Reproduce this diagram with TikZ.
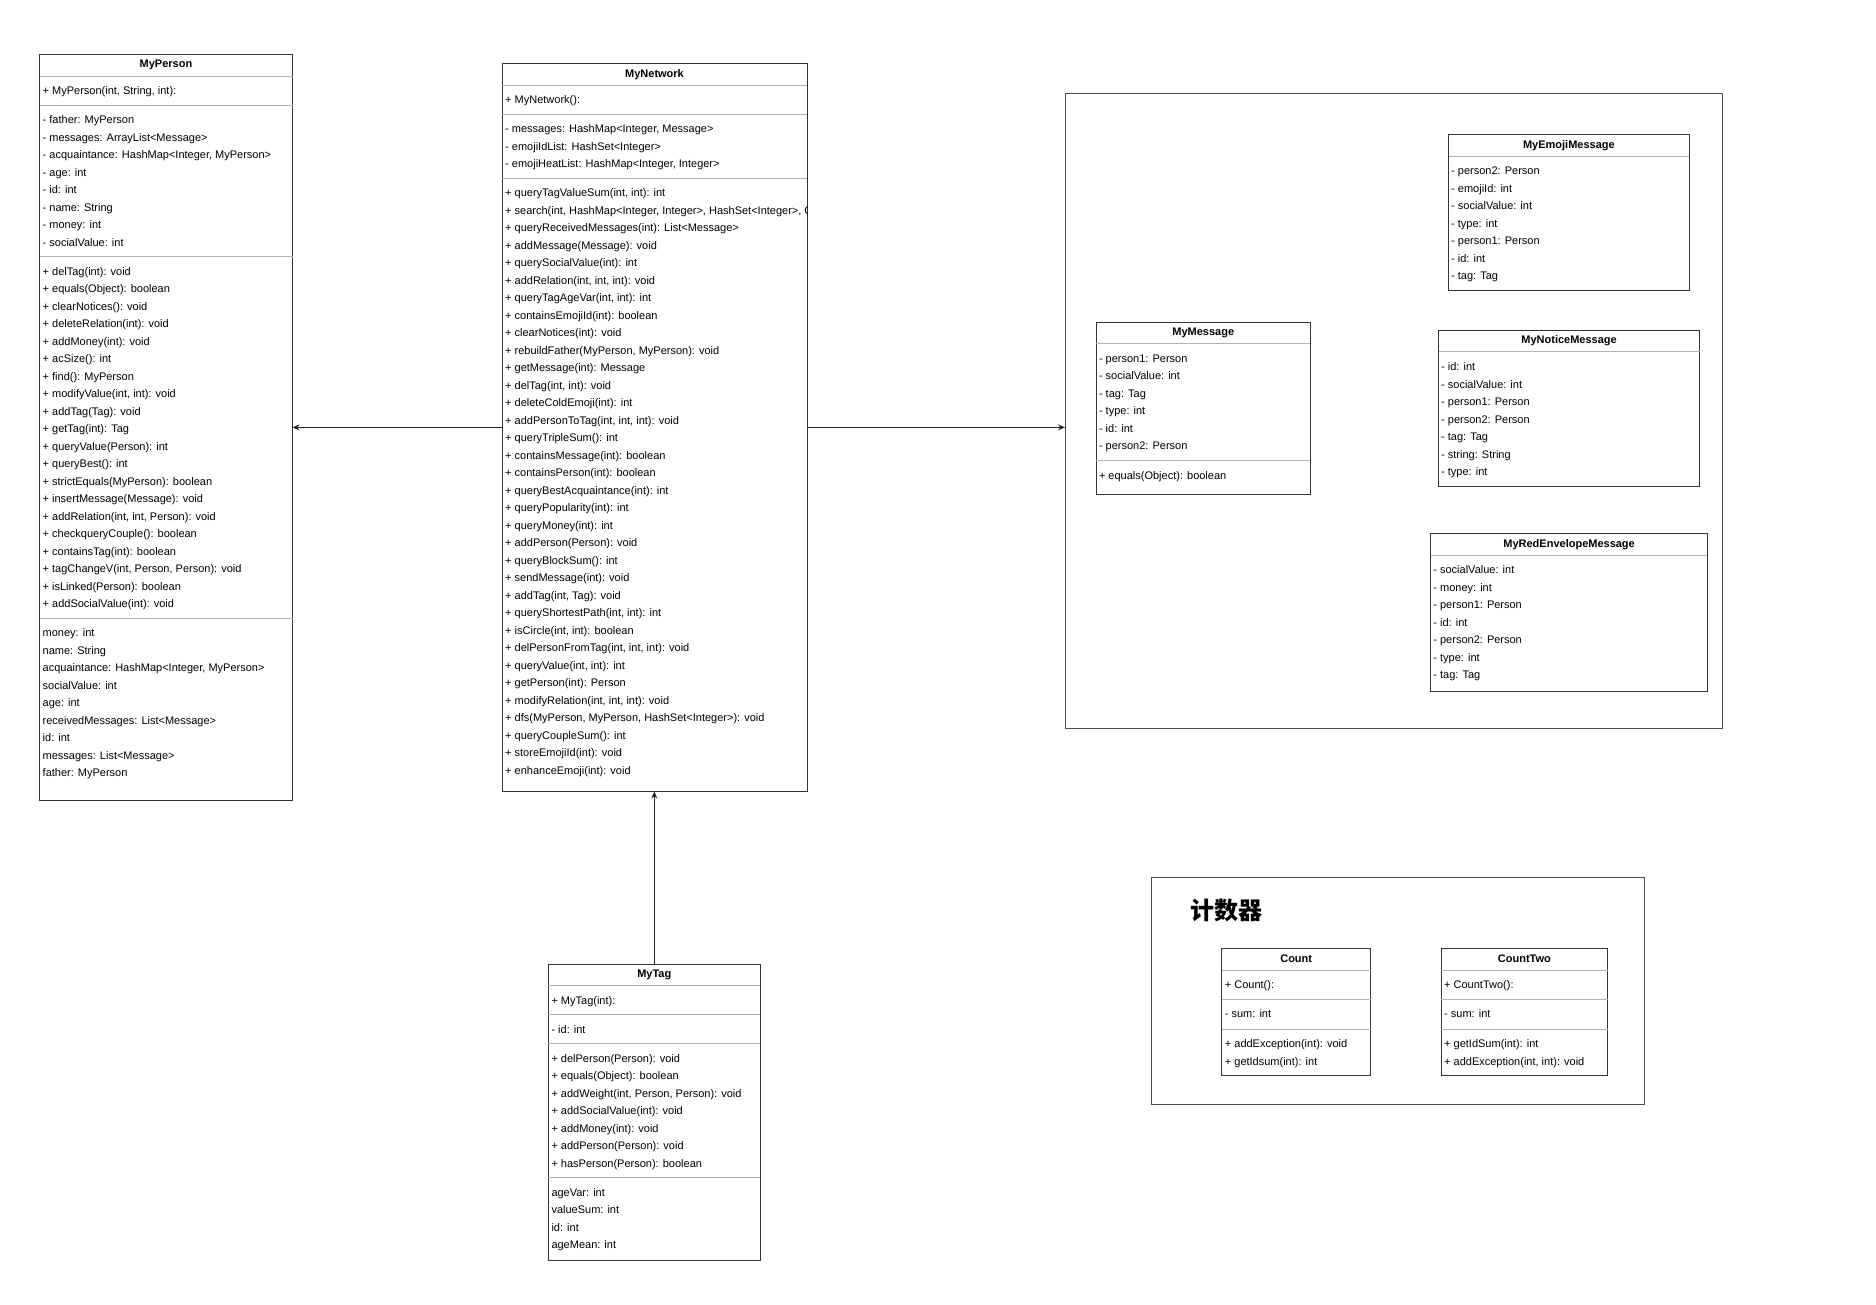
\documentclass[tikz,border=0pt]{standalone}
\usepackage{fontspec}
\setmainfont{Liberation Sans}
\newfontfamily\cjk{Noto Sans CJK SC}
\usepackage{tikz}
\usetikzlibrary{arrows.meta,positioning}

\begin{document}
\begin{tikzpicture}[
  x=1pt, y=-1pt,
  font=\fontsize{11pt}{17.5pt}\selectfont,
  cls/.style   ={rectangle, draw=black!80, line width=1pt, fill=white, anchor=north west,
                 inner sep=0pt, outer sep=0pt},
  frame/.style ={rectangle, draw=black!70, line width=1pt, anchor=north west,
                 inner sep=0pt, outer sep=0pt},
  title/.style ={font=\fontsize{11pt}{13pt}\selectfont\bfseries, inner sep=0pt,
                 text height=8pt, text depth=0pt},
  rows/.style  ={anchor=north west, align=left, inner sep=0pt},
  sep/.style   ={draw=black!30, line width=1pt},
  arr/.style   ={-{Stealth[length=7pt, width=6pt]}, draw=black!85, line width=1pt}
]
\useasboundingbox (0,0) rectangle (1876,1304);

% frames
\node[frame, minimum width=657.7pt, minimum height=635.3pt] (msgs) at (1065,93.3) {};
\node[frame, minimum width=492.6pt, minimum height=227pt] (counter) at (1151.7,877.3) {};
\node[font=\cjk\bfseries\fontsize{24pt}{27pt}\selectfont, anchor=west, inner sep=0pt]
  (counter-t) at (1190,910) {计数器};

% MyPerson
\node[cls, minimum width=253pt, minimum height=746.7pt] (person) at (39.5,54) {};
\node[title] (person-t) at (166,63.8) {MyPerson};
\draw[sep] ([yshift=-22pt]person.north west) -- ([yshift=-22pt]person.north east);
\draw[sep] ([yshift=-51pt]person.north west) -- ([yshift=-51pt]person.north east);
\draw[sep] ([yshift=-202.5pt]person.north west) -- ([yshift=-202.5pt]person.north east);
\draw[sep] ([yshift=-564pt]person.north west) -- ([yshift=-564pt]person.north east);
\node[rows] (person-c) at (42.5,86.7) {+ MyPerson(int, String, int):};
\node[rows] (person-a) at (42.5,115.7) {- father: MyPerson\\- messages: ArrayList<Message>\\
  - acquaintance: HashMap<Integer, MyPerson>\\- age: int\\- id: int\\- name: String\\
  - money: int\\- socialValue: int};
\node[rows] (person-m) at (42.5,267.2) {+ delTag(int): void\\+ equals(Object): boolean\\
  + clearNotices(): void\\+ deleteRelation(int): void\\+ addMoney(int): void\\
  + acSize(): int\\+ find(): MyPerson\\+ modifyValue(int, int): void\\+ addTag(Tag): void\\
  + getTag(int): Tag\\+ queryValue(Person): int\\+ queryBest(): int\\
  + strictEquals(MyPerson): boolean\\+ insertMessage(Message): void\\
  + addRelation(int, int, Person): void\\+ checkqueryCouple(): boolean\\
  + containsTag(int): boolean\\+ tagChangeV(int, Person, Person): void\\
  + isLinked(Person): boolean\\+ addSocialValue(int): void};
\node[rows] (person-f) at (42.5,628.7) {money: int\\name: String\\
  acquaintance: HashMap<Integer, MyPerson>\\socialValue: int\\age: int\\
  receivedMessages: List<Message>\\id: int\\messages: List<Message>\\father: MyPerson};

% MyNetwork
\node[cls, minimum width=305pt, minimum height=728.2pt] (net) at (502,63.3) {};
\node[title] (net-t) at (654.5,73) {MyNetwork};
\draw[sep] ([yshift=-21.7pt]net.north west) -- ([yshift=-21.7pt]net.north east);
\draw[sep] ([yshift=-50.7pt]net.north west) -- ([yshift=-50.7pt]net.north east);
\draw[sep] ([yshift=-114.7pt]net.north west) -- ([yshift=-114.7pt]net.north east);
\node[rows] (net-c) at (505,95.7) {+ MyNetwork():};
\node[rows] (net-a) at (505,124.7) {- messages: HashMap<Integer, Message>\\
  - emojiIdList: HashSet<Integer>\\- emojiHeatList: HashMap<Integer, Integer>};
\begin{scope}
  \clip (net.north west) rectangle (net.south east);
  \node[rows] (net-m) at (505,188.7) {+ queryTagValueSum(int, int): int\\
    + search(int, HashMap<Integer, Integer>, HashSet<Integer>, C\\
    + queryReceivedMessages(int): List<Message>\\+ addMessage(Message): void\\
    + querySocialValue(int): int\\+ addRelation(int, int, int): void\\
    + queryTagAgeVar(int, int): int\\+ containsEmojiId(int): boolean\\
    + clearNotices(int): void\\+ rebuildFather(MyPerson, MyPerson): void\\
    + getMessage(int): Message\\+ delTag(int, int): void\\+ deleteColdEmoji(int): int\\
    + addPersonToTag(int, int, int): void\\+ queryTripleSum(): int\\
    + containsMessage(int): boolean\\+ containsPerson(int): boolean\\
    + queryBestAcquaintance(int): int\\+ queryPopularity(int): int\\+ queryMoney(int): int\\
    + addPerson(Person): void\\+ queryBlockSum(): int\\+ sendMessage(int): void\\
    + addTag(int, Tag): void\\+ queryShortestPath(int, int): int\\
    + isCircle(int, int): boolean\\+ delPersonFromTag(int, int, int): void\\
    + queryValue(int, int): int\\+ getPerson(int): Person\\
    + modifyRelation(int, int, int): void\\+ dfs(MyPerson, MyPerson, HashSet<Integer>): void\\
    + queryCoupleSum(): int\\+ storeEmojiId(int): void\\+ enhanceEmoji(int): void};
\end{scope}

% MyTag
\node[cls, minimum width=212pt, minimum height=296pt] (tag) at (548.3,964) {};
\node[title] (tag-t) at (654.3,973.7) {MyTag};
\draw[sep] ([yshift=-21.7pt]tag.north west) -- ([yshift=-21.7pt]tag.north east);
\draw[sep] ([yshift=-50.5pt]tag.north west) -- ([yshift=-50.5pt]tag.north east);
\draw[sep] ([yshift=-79.5pt]tag.north west) -- ([yshift=-79.5pt]tag.north east);
\draw[sep] ([yshift=-213.5pt]tag.north west) -- ([yshift=-213.5pt]tag.north east);
\node[rows] (tag-c) at (551.3,996.4) {+ MyTag(int):};
\node[rows] (tag-a) at (551.3,1025.2) {- id: int};
\node[rows] (tag-m) at (551.3,1054.2) {+ delPerson(Person): void\\+ equals(Object): boolean\\
  + addWeight(int, Person, Person): void\\+ addSocialValue(int): void\\
  + addMoney(int): void\\+ addPerson(Person): void\\+ hasPerson(Person): boolean};
\node[rows] (tag-f) at (551.3,1188.2) {ageVar: int\\valueSum: int\\id: int\\ageMean: int};

% messages
\node[cls, minimum width=240.6pt, minimum height=156pt] (emoji) at (1448.6,134.3) {};
\node[title] (emoji-t) at (1568.9,144) {MyEmojiMessage};
\draw[sep] ([yshift=-21.7pt]emoji.north west) -- ([yshift=-21.7pt]emoji.north east);
\node[rows] (emoji-a) at (1451,166.7) {- person2: Person\\- emojiId: int\\
  - socialValue: int\\- type: int\\- person1: Person\\- id: int\\- tag: Tag};

\node[cls, minimum width=213.8pt, minimum height=172.3pt] (msg) at (1096.4,322) {};
\node[title] (msg-t) at (1203.3,331.7) {MyMessage};
\draw[sep] ([yshift=-21.7pt]msg.north west) -- ([yshift=-21.7pt]msg.north east);
\draw[sep] ([yshift=-138.2pt]msg.north west) -- ([yshift=-138.2pt]msg.north east);
\node[rows] (msg-a) at (1098.8,354.4) {- person1: Person\\- socialValue: int\\
  - tag: Tag\\- type: int\\- id: int\\- person2: Person};
\node[rows] (msg-m) at (1098.8,470.9) {+ equals(Object): boolean};

\node[cls, minimum width=261pt, minimum height=156pt] (notice) at (1438.6,330) {};
\node[title] (notice-t) at (1569.1,339.7) {MyNoticeMessage};
\draw[sep] ([yshift=-21.7pt]notice.north west) -- ([yshift=-21.7pt]notice.north east);
\node[rows] (notice-a) at (1441,362.4) {- id: int\\- socialValue: int\\
  - person1: Person\\- person2: Person\\- tag: Tag\\- string: String\\- type: int};

\node[cls, minimum width=276.6pt, minimum height=157.7pt] (red) at (1430.8,533.3) {};
\node[title] (red-t) at (1569.1,543) {MyRedEnvelopeMessage};
\draw[sep] ([yshift=-21.7pt]red.north west) -- ([yshift=-21.7pt]red.north east);
\node[rows] (red-a) at (1433.2,565.7) {- socialValue: int\\- money: int\\
  - person1: Person\\- id: int\\- person2: Person\\- type: int\\- tag: Tag};

% counters
\node[cls, minimum width=149pt, minimum height=126.7pt] (cnt) at (1221.7,948.3) {};
\node[title] (cnt-t) at (1296.2,958) {Count};
\draw[sep] ([yshift=-21.7pt]cnt.north west) -- ([yshift=-21.7pt]cnt.north east);
\draw[sep] ([yshift=-51pt]cnt.north west) -- ([yshift=-51pt]cnt.north east);
\draw[sep] ([yshift=-80.7pt]cnt.north west) -- ([yshift=-80.7pt]cnt.north east);
\node[rows] (cnt-c) at (1224.7,980.7) {+ Count():};
\node[rows] (cnt-a) at (1224.7,1009.7) {- sum: int};
\node[rows] (cnt-m) at (1224.7,1039.7) {+ addException(int): void\\+ getIdsum(int): int};

\node[cls, minimum width=166.7pt, minimum height=126.7pt] (cnt2) at (1441,948.3) {};
\node[title] (cnt2-t) at (1524.4,958) {CountTwo};
\draw[sep] ([yshift=-21.7pt]cnt2.north west) -- ([yshift=-21.7pt]cnt2.north east);
\draw[sep] ([yshift=-51pt]cnt2.north west) -- ([yshift=-51pt]cnt2.north east);
\draw[sep] ([yshift=-80.7pt]cnt2.north west) -- ([yshift=-80.7pt]cnt2.north east);
\node[rows] (cnt2-c) at (1444,980.7) {+ CountTwo():};
\node[rows] (cnt2-a) at (1444,1009.7) {- sum: int};
\node[rows] (cnt2-m) at (1444,1039.7) {+ getIdSum(int): int\\+ addException(int, int): void};

% links
\draw[arr] (net.west) -- (net.west -| person.east);
\draw[arr] (net.east) -- (net.east -| msgs.west);
\draw[arr] (tag.north) -- (tag.north |- net.south);
\end{tikzpicture}
\end{document}
